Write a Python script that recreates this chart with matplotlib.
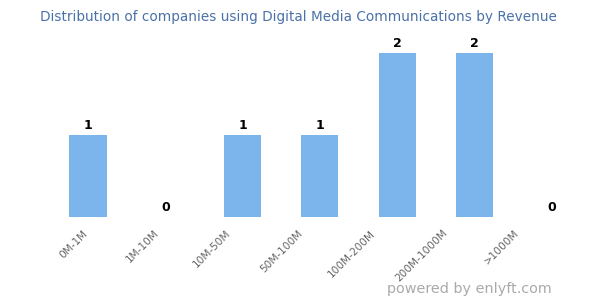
import matplotlib
matplotlib.use("Agg")
import matplotlib.pyplot as plt

categories = ["0M-1M", "1M-10M", "10M-50M", "50M-100M", "100M-200M", "200M-1000M", ">1000M"]
values = [1, 0, 1, 1, 2, 2, 0]

fig = plt.figure(figsize=(6, 3), dpi=100)
ax = fig.add_axes([49.4/600, 83/300, 541/600, 197/300])
x = list(range(len(categories)))
ax.bar(x, values, width=0.48, color="#7cb5ec")
ax.set_xlim(-0.5, 6.5)
ax.set_ylim(0, 2.4)
for xi, v in zip(x, values):
    ax.text(xi, v + 0.04, str(v), ha="center", va="bottom", fontsize=9, fontweight="bold", color="#000000")
for s in ax.spines.values():
    s.set_visible(False)
ax.set_yticks([])
# label positions in the reference are spaced slightly tighter than the bars
label_pos = [(82 + 72 * i - 49.4) / 77.3 - 0.5 for i in x]
ax.set_xticks(label_pos)
ax.set_xticklabels(categories, rotation=45, ha="right", rotation_mode="anchor", fontsize=7.6, color="#666666")
ax.tick_params(axis="x", length=0, pad=8)
fig.text(0.4975, 0.945, "Distribution of companies using Digital Media Communications by Revenue",
         ha="center", va="center", fontsize=9.8, color="#4a72a8")
fig.text(0.92, 0.035, "powered by enlyft.com", ha="right", va="center", fontsize=10.4, color="#aaaaaa")
fig.savefig("out.png", dpi=100)
